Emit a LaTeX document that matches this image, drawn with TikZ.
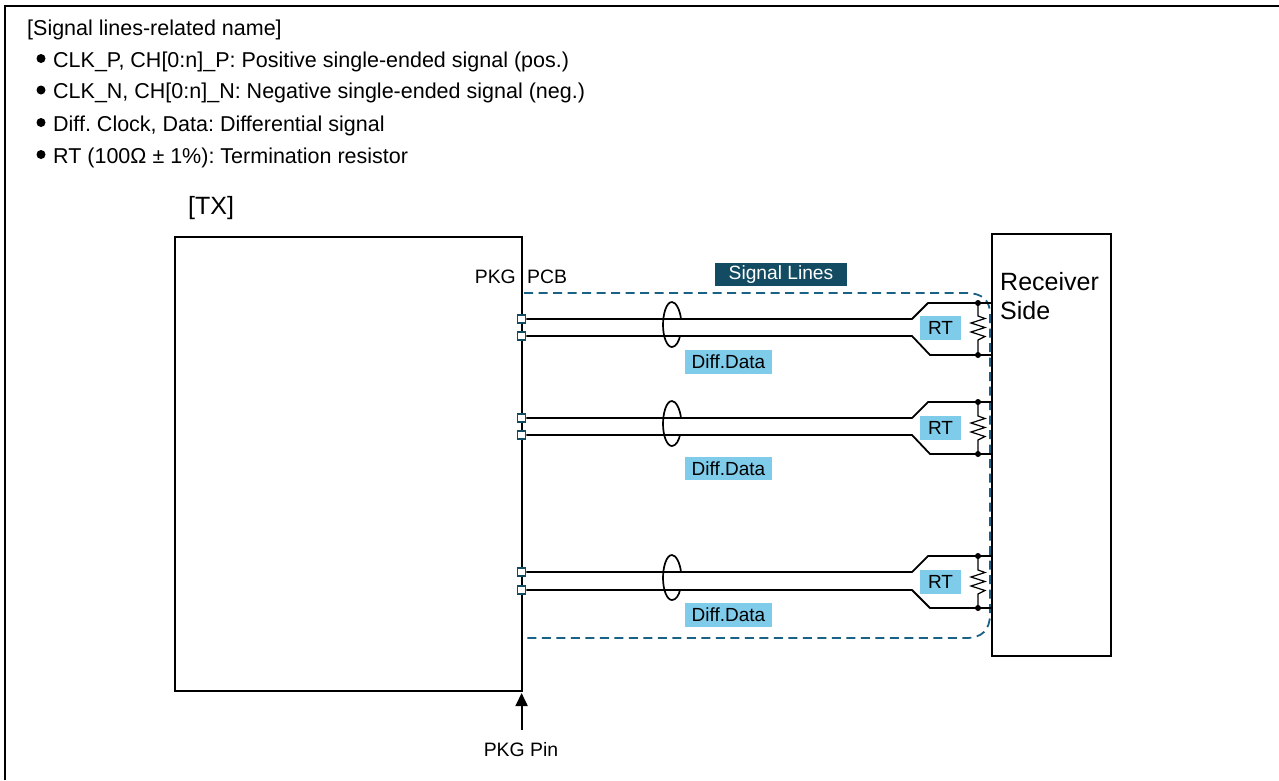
\documentclass[tikz,border=0pt]{standalone}
\usepackage{fontspec}
\setmainfont{Liberation Sans}
\usetikzlibrary{arrows.meta}
\definecolor{rtblue}{HTML}{7FCBEA}
\definecolor{navy}{HTML}{134B63}
\definecolor{dashblue}{HTML}{1A6285}
\frenchspacing
\tikzset{
  txt/.style={inner sep=0pt,anchor=base west,font=\fontsize{21.5}{24}\selectfont},
  lbl/.style={inner sep=0pt,anchor=base west,font=\fontsize{19.4}{22}\selectfont},
  big/.style={inner sep=0pt,anchor=base west,font=\fontsize{25}{28}\selectfont},
  block/.style={draw=black,line width=2pt,fill=white,inner sep=0pt,outer sep=0pt,anchor=north west},
  tag/.style={fill=rtblue,inner sep=0pt,text=black,font=\fontsize{19}{22}\selectfont},
  sig/.style={draw=black,line width=1.8pt,line join=round},
  pin/.style={draw=navy,fill=white,line width=1.6pt,minimum size=8pt,inner sep=0pt},
  dot/.style={circle,fill=black,inner sep=0pt,minimum size=6pt},
  bul/.style={circle,fill=black,inner sep=0pt,minimum size=9pt},
}
\begin{document}
\begin{tikzpicture}[x=1pt,y=-1pt]
\useasboundingbox (0,0) rectangle (1279,780);
\fill[white] (0,0) rectangle (1279,780);
\draw[line width=2pt] (5,780) -- (5,6) -- (1279,6);
% legend
\node[txt] (h) at (27,35) {[Signal lines-related name]};
\foreach \n/\y/\t in {a/67/{CLK\_P, CH[0:n]\_P: Positive single-ended signal (pos.)},
                      b/98.5/{CLK\_N, CH[0:n]\_N: Negative single-ended signal (neg.)},
                      c/131/{Diff. Clock, Data: Differential signal},
                      d/163/{RT (100Ω ± 1\%): Termination resistor}}{
  \node[bul] (b\n) at (41,\y-8.5) {};
  \node[txt] (t\n) at (53,\y) {\t};
}
% blocks
\node[big] (txl) at (188,214) {[TX]};
\node[block,minimum width=347pt,minimum height=454.5pt] (tx) at (174.6,236.5) {};
\node[block,minimum width=119pt,minimum height=421.5pt] (rx) at (992.3,234) {};
\node[big] (rx1) at (1000,290) {Receiver};
\node[big] (rx2) at (1000,319) {Side};
% labels
\node[lbl,anchor=base east] (pkg) at (516,283) {PKG};
\node[lbl] (pcb) at (527,283) {PCB};
\node[fill=navy,text=white,inner sep=0pt,minimum width=132pt,minimum height=23pt,font=\fontsize{19.2}{22}\selectfont] (sl) at (781,274.5) {Signal Lines};
% dashed envelope
\coordinate (d1) at (524,293);
\coordinate (d2) at (524,638);
\draw[dashblue,line width=1.8pt,dash pattern=on 9pt off 5.5pt]
  (d1) -- (966,293) .. controls (982,293) and (990,300) .. (990,314) -- (990,614)
  .. controls (990,630) and (982,638) .. (966,638) -- (d2);
% signal pairs
\foreach \i/\a/\b/\t/\u/\r/\l in {1/319/336/303/355/328/362,2/418/435/402/454/428/468.5,3/572/590/556/608/582/615}{
  \node[pin] (p\i) at (521.5,\a) {};
  \node[pin] (q\i) at (521.5,\b) {};
  \coordinate (pe\i) at (992,\t);
  \coordinate (qe\i) at (992,\u);
  \draw[sig] (p\i.east) -- (912,\a) -- (928,\t) -- (pe\i);
  \draw[sig] (q\i.east) -- (912,\b) -- (930,\u) -- (qe\i);
  \node[dot] (ra\i) at (978,\t) {};
  \node[dot] (rb\i) at (978,\u) {};
  \draw[draw=black,line width=1.2pt,line join=miter] (ra\i.center) -- (978,\r-12) -- (985,\r-9.5) -- (971,\r-5) -- (985,\r-.5) -- (971,\r+4) -- (985,\r+8.5) -- (978,\r+12) -- (rb\i.center);
  \node[tag,minimum width=41pt,minimum height=24pt] (rt\i) at (940.5,\r) {RT};
  \node[tag,minimum width=87pt,minimum height=23.5pt] (dd\i) at (728.5,\l) {Diff.Data};
  % twist ring
  \draw[black,line width=1.7pt] (681,\a) .. controls (680,\a-9) and (676,\a-17) .. (672,\a-17)
     .. controls (666,\a-17) and (663,\a-4) .. (663,\a+6)
     .. controls (663,\a+18) and (667,\a+28) .. (672,\a+28)
     .. controls (676,\a+28) and (679,\b+5) .. (680,\b);
}
% PKG pin
\node[lbl,anchor=base] (pp) at (521,756) {PKG Pin};
\coordinate (pa) at (521,730);
\draw[line width=1.8pt,-{Triangle[length=13pt,width=12pt]},shorten >=2pt] (tx.south east |- pa) -- (tx.south east);
\end{tikzpicture}
\end{document}
